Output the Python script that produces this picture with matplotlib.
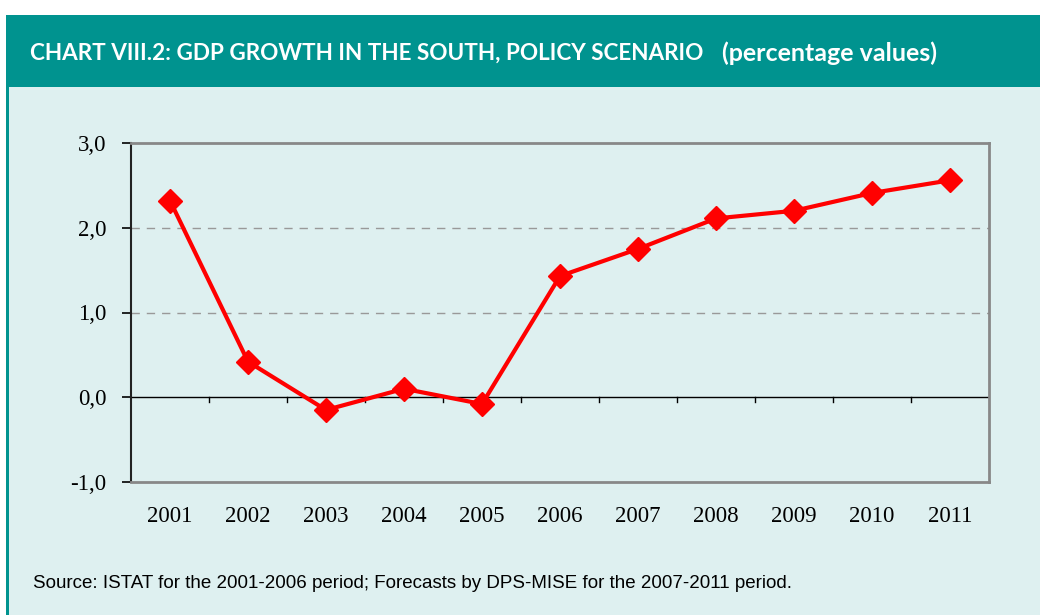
import matplotlib.pyplot as plt
import matplotlib.patches as mpatches
from matplotlib.ticker import FuncFormatter

# --- data ---
years = ["2001", "2002", "2003", "2004", "2005", "2006",
         "2007", "2008", "2009", "2010", "2011"]
growth = [2.32, 0.42, -0.15, 0.10, -0.08, 1.43, 1.75, 2.11, 2.20, 2.41, 2.56]
y_ticks = [-1.0, 0.0, 1.0, 2.0, 3.0]

title_main = "CHART VIII.2: GDP GROWTH IN THE SOUTH, POLICY SCENARIO"
title_sub = "(percentage values)"
source_txt = "Source: ISTAT for the 2001-2006 period; Forecasts by DPS-MISE for the 2007-2011 period."

teal = "#00938F"
pale = "#DEF0F0"

W, H = 1040, 615
fig = plt.figure(figsize=(W / 100, H / 100), dpi=100)
fig.patch.set_facecolor("white")

def px_rect(x0, y0, x1, y1, color):
    # rectangle given in pixel coords (y from top)
    r = mpatches.Rectangle((x0 / W, 1 - y1 / H), (x1 - x0) / W, (y1 - y0) / H,
                           transform=fig.transFigure, facecolor=color,
                           edgecolor="none", zorder=-5)
    fig.patches.append(r)

px_rect(6, 87, W, H, pale)
px_rect(6, 15, W, 87, teal)
px_rect(6, 87, 9, H, teal)

fig.text(30 / W, 1 - 53 / H, title_main, color="white", fontsize=16.2,
         fontweight="bold", family="Lato", va="center", ha="left")
fig.text(722 / W, 1 - 53 / H, title_sub, color="white", fontsize=18,
         fontweight="bold", family="Lato", va="center", ha="left")
fig.text(33 / W, 1 - 584 / H, source_txt, color="black", fontsize=13.5,
         family="Liberation Sans", va="center", ha="left")

ax = fig.add_axes([131 / W, 1 - 482 / H, 858 / W, 339 / H])
ax.set_facecolor(pale)

x = list(range(len(years)))
ax.plot(x, growth, color="#FF0000", lw=3, marker="D", ms=12,
        markeredgecolor="#FF0000", zorder=5, clip_on=False)

ax.set_xlim(-0.5, len(years) - 0.5)
ax.set_ylim(-1.0, 3.0)

# dashed grid at 1 and 2, solid zero line
for g in [1.0, 2.0]:
    ax.axhline(g, color="#999999", lw=1, ls=(0, (6, 5)), zorder=1)
ax.axhline(0, color="black", lw=1, zorder=2)

# small ticks hanging below the zero line at category boundaries
for b in range(1, len(years)):
    ax.plot([b - 0.5, b - 0.5], [0, -0.06], color="black", lw=1, zorder=2)

ax.set_yticks(y_ticks)
ax.yaxis.set_major_formatter(FuncFormatter(lambda v, p: f"{v:.1f}".replace(".", ",")))
ax.set_xticks(x)
ax.set_xticklabels(years)
ax.tick_params(axis="x", length=0, pad=17, labelsize=16.5)
ax.tick_params(axis="y", length=6.5, width=1.2, pad=11, labelsize=16.5, direction="out")
for lab in ax.get_xticklabels() + ax.get_yticklabels():
    lab.set_family("Liberation Serif")

for s in ["top", "right", "bottom"]:
    ax.spines[s].set_color("#888888")
    ax.spines[s].set_linewidth(2)
ax.spines["left"].set_color("#222222")
ax.spines["left"].set_linewidth(1.5)

fig.savefig("out.png", dpi=100, facecolor=fig.get_facecolor())
